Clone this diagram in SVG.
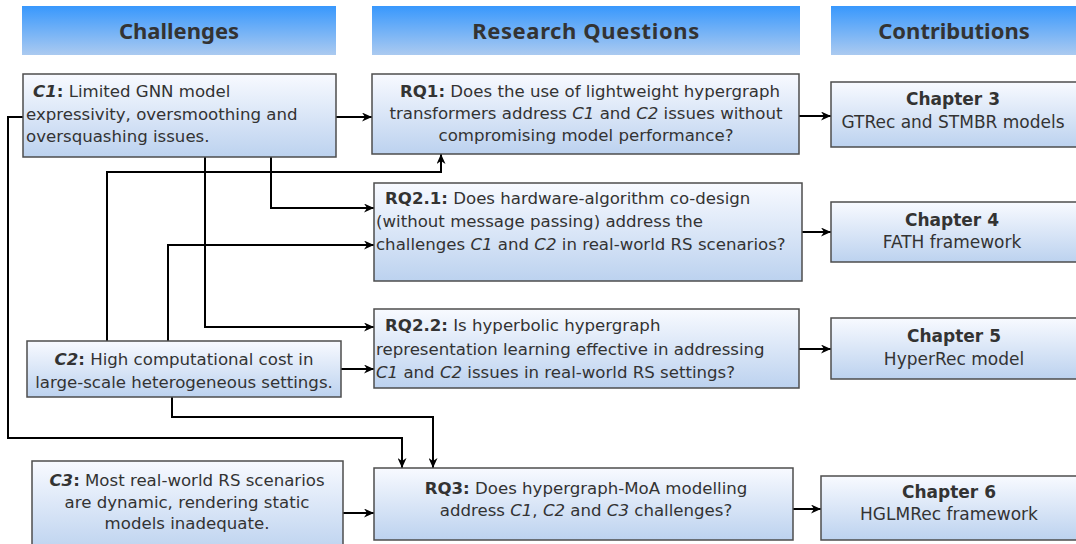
<svg xmlns="http://www.w3.org/2000/svg" width="1076" height="544" viewBox="0 0 1076 544">
  <style>
    text { font-family: "DejaVu Sans", "Noto Sans", sans-serif; fill: #333; font-size: 16.6px; }
    .hdr { font-family: "Noto Sans", "DejaVu Sans", sans-serif; font-size: 22px; font-weight: bold; text-anchor: middle; }
    .mid { text-anchor: middle; }
    .ch { font-size: 17px; text-anchor: middle; }
    .b { font-weight: bold; }
    .i { font-style: italic; }
    .box { fill: url(#boxFill); stroke: #4d4d4d; stroke-width: 1.5; }
    .head { fill: url(#headFill); }
    .wire { fill: none; stroke: #000; stroke-width: 2; marker-end: url(#arrow); }
  </style>
  <defs>
    <linearGradient id="boxFill" x1="0" y1="0" x2="0" y2="1">
      <stop offset="0" stop-color="#f8faff"/>
      <stop offset="1" stop-color="#bcd2ef"/>
    </linearGradient>
    <linearGradient id="headFill" x1="0" y1="0" x2="0" y2="1">
      <stop offset="0" stop-color="#3898fd"/>
      <stop offset="1" stop-color="#abcaf0"/>
    </linearGradient>
    <marker id="arrow" markerWidth="11" markerHeight="9" refX="10" refY="4.5" orient="auto" markerUnits="userSpaceOnUse">
      <path d="M0,0 L10,4.5 L0,9 L3,4.5 Z" fill="#000"/>
    </marker>
  </defs>

  <!-- column headers -->
  <g id="hdr-challenges">
    <rect class="head" x="22" y="6" width="314" height="49"/>
    <text class="hdr" x="179" y="39">Challenges</text>
  </g>
  <g id="hdr-questions">
    <rect class="head" x="372" y="6" width="428" height="49"/>
    <text class="hdr" x="586" y="39" letter-spacing="0.6">Research Questions</text>
  </g>
  <g id="hdr-contributions">
    <rect class="head" x="831" y="6" width="245" height="49"/>
    <text class="hdr" x="954" y="39">Contributions</text>
  </g>

  <!-- connectors -->
  <g id="connectors">
    <path class="wire" d="M336,117 H372"/>
    <path class="wire" d="M23,117 H8 V438 H402 V468"/>
    <path class="wire" d="M271,157 V208 H374"/>
    <path class="wire" d="M205,157 V327 H374"/>
    <path class="wire" d="M107,341 V172 H441 V154"/>
    <path class="wire" d="M168,341 V245 H374"/>
    <path class="wire" d="M341,369 H374"/>
    <path class="wire" d="M172,397 V417 H433 V468"/>
    <path class="wire" d="M343,513 H374"/>
    <path class="wire" d="M799,116 H831"/>
    <path class="wire" d="M802,232 H831"/>
    <path class="wire" d="M799,349 H831"/>
    <path class="wire" d="M793,509 H821"/>
  </g>

  <!-- challenges -->
  <g id="c1">
    <rect class="box" x="23" y="74" width="313" height="83"/>
    <text x="33" y="97"><tspan class="b i">C1</tspan><tspan class="b">:</tspan> Limited GNN model</text>
    <text x="26" y="120">expressivity, oversmoothing and</text>
    <text x="26" y="142">oversquashing issues.</text>
  </g>
  <g id="c2">
    <rect class="box" x="27" y="341" width="314" height="56"/>
    <text class="mid" x="184" y="365"><tspan class="b i">C2</tspan><tspan class="b">:</tspan> High computational cost in</text>
    <text class="mid" x="184" y="388">large-scale heterogeneous settings.</text>
  </g>
  <g id="c3">
    <rect class="box" x="32" y="461" width="311" height="92"/>
    <text class="mid" x="187" y="486"><tspan class="b i">C3</tspan><tspan class="b">:</tspan> Most real-world RS scenarios</text>
    <text class="mid" x="187" y="508">are dynamic, rendering static</text>
    <text class="mid" x="187" y="529">models inadequate.</text>
  </g>

  <!-- research questions -->
  <g id="rq1">
    <rect class="box" x="372" y="74" width="427" height="80"/>
    <text class="mid" x="590" y="97"><tspan class="b">RQ1:</tspan> Does the use of lightweight hypergraph</text>
    <text class="mid" x="586" y="119">transformers address <tspan class="i">C1</tspan> and <tspan class="i">C2</tspan> issues without</text>
    <text class="mid" x="586" y="141">compromising model performance?</text>
  </g>
  <g id="rq21">
    <rect class="box" x="374" y="183" width="428" height="98"/>
    <text x="385" y="204"><tspan class="b">RQ2.1:</tspan> Does hardware-algorithm co-design</text>
    <text x="376" y="227">(without message passing) address the</text>
    <text x="376" y="250">challenges <tspan class="i">C1</tspan> and <tspan class="i">C2</tspan> in real-world RS scenarios?</text>
  </g>
  <g id="rq22">
    <rect class="box" x="374" y="309" width="425" height="79"/>
    <text x="385" y="331"><tspan class="b">RQ2.2:</tspan> Is hyperbolic hypergraph</text>
    <text x="376" y="355">representation learning effective in addressing</text>
    <text x="376" y="378"><tspan class="i">C1</tspan> and <tspan class="i">C2</tspan> issues in real-world RS settings?</text>
  </g>
  <g id="rq3">
    <rect class="box" x="374" y="468" width="419" height="72"/>
    <text class="mid" x="586" y="494"><tspan class="b">RQ3:</tspan> Does hypergraph-MoA modelling</text>
    <text class="mid" x="586" y="516">address <tspan class="i">C1</tspan>, <tspan class="i">C2</tspan> and <tspan class="i">C3</tspan> challenges?</text>
  </g>

  <!-- contributions -->
  <g id="ch3">
    <rect class="box" x="831" y="82" width="250" height="65"/>
    <text class="ch b" x="953" y="105">Chapter 3</text>
    <text class="ch" x="953" y="128">GTRec and STMBR models</text>
  </g>
  <g id="ch4">
    <rect class="box" x="831" y="202" width="250" height="60"/>
    <text class="ch b" x="952" y="226">Chapter 4</text>
    <text class="ch" x="952" y="248">FATH framework</text>
  </g>
  <g id="ch5">
    <rect class="box" x="831" y="318" width="250" height="61"/>
    <text class="ch b" x="954" y="342">Chapter 5</text>
    <text class="ch" x="954" y="365">HyperRec model</text>
  </g>
  <g id="ch6">
    <rect class="box" x="821" y="476" width="260" height="64"/>
    <text class="ch b" x="949" y="498">Chapter 6</text>
    <text class="ch" x="949" y="520">HGLMRec framework</text>
  </g>
</svg>
